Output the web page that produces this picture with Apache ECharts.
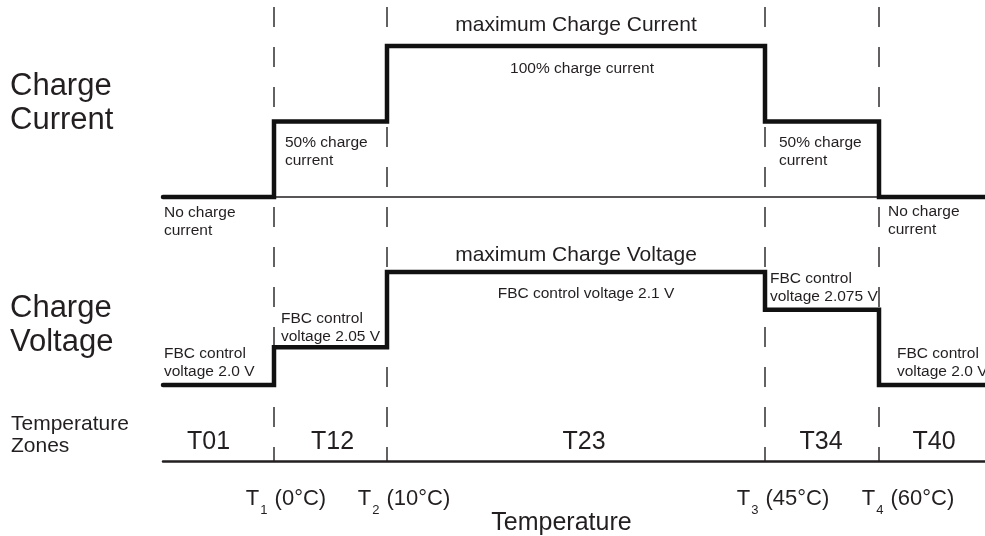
<!DOCTYPE html>
<html><head><meta charset="utf-8">
<script src="https://cdn.jsdelivr.net/npm/echarts@6/dist/echarts.min.js"></script>
<style>html,body{margin:0;padding:0;background:#fff}#c{width:985px;height:536px}</style>
</head><body><div id="c"></div>
<script>
// ---- data (schematic temperature axis, not to scale) ----
const zoneNames = ['T01', 'T12', 'T23', 'T34', 'T40'];
const boundaryNames = ['T1', 'T2', 'T3', 'T4'];
const boundaryTemps = ['0°C', '10°C', '45°C', '60°C'];
const boundaryPos = [111, 224, 602, 716];        // schematic positions of T1..T4
const axisStart = 0, axisEnd = 822;
const currentLevels = [0, 50, 100, 50, 0];       // % of max charge current per zone
const voltageCats = ['2.0 V', '2.05 V', '2.075 V', '2.1 V'];
const voltageLevels = ['2.0 V', '2.05 V', '2.1 V', '2.075 V', '2.0 V'];
const currentNoteTexts = ['No charge\ncurrent', '50% charge\ncurrent', 'maximum Charge Current',
  '100% charge current', '50% charge\ncurrent', 'No charge\ncurrent'];
const voltageNoteTexts = ['FBC control\nvoltage 2.0 V', 'FBC control\nvoltage 2.05 V', 'maximum Charge Voltage',
  'FBC control voltage 2.1 V', 'FBC control\nvoltage 2.075 V', 'FBC control\nvoltage 2.0 V'];

// ---- layout / style ----
const FONT = "'Liberation Sans', Arial, Helvetica, sans-serif";
const INK = '#231f20';
const currentNoteLayout = [
  {zone: 0, anchor: 'start', dx: 1, dy: 25, align: 'left'},
  {zone: 1, anchor: 'start', dx: 11, dy: 30.5, align: 'left'},
  {zone: 2, anchor: 'center', dx: 0, dy: -21, align: 'center', big: true},
  {zone: 2, anchor: 'center', dx: 6, dy: 22.5, align: 'center'},
  {zone: 3, anchor: 'start', dx: 14, dy: 30, align: 'left'},
  {zone: 4, anchor: 'start', dx: 9, dy: 24, align: 'left'}
];
const voltageNoteLayout = [
  {zone: 0, anchor: 'start', dx: 1, dy: -22.5, align: 'left'},
  {zone: 1, anchor: 'start', dx: 7, dy: -19.5, align: 'left'},
  {zone: 2, anchor: 'center', dx: 0, dy: -16.5, align: 'center', big: true},
  {zone: 2, anchor: 'center', dx: 10, dy: 22, align: 'center'},
  {zone: 3, anchor: 'start', dx: 5, dy: -22, align: 'left'},
  {zone: 4, anchor: 'start', dx: 18, dy: -22.5, align: 'left'}
];
const zoneLabelNudge = [-10, 2, 8, -1, 2];
const tickLabelShift = [12, 17, 18, 29];

const zoneStarts = [axisStart].concat(boundaryPos);
const zoneEnds = boundaryPos.concat([axisEnd]);
const zoneCenters = zoneStarts.map((s, i) => (s + zoneEnds[i]) / 2);

function stepData(levels) {
  const d = zoneStarts.map((x, i) => [x, levels[i]]);
  d.push([axisEnd, levels[levels.length - 1]]);
  return d;
}
// voltage levels drawn on an ordinal (rank) scale of the voltage set-points
const voltageIdx = voltageLevels.map(v => voltageCats.indexOf(v));

const hidden = {color: 'rgba(0,0,0,0)', opacity: 1};

function noteSeries(idx, levels, texts, layout) {
  return {
    type: 'scatter', xAxisIndex: idx, yAxisIndex: idx, clip: false, silent: true,
    symbolSize: 1, itemStyle: hidden, z: 10,
    data: texts.map((t, i) => {
      const L = layout[i];
      const x = L.anchor === 'start' ? zoneStarts[L.zone] : zoneCenters[L.zone];
      return {
        value: [x, levels[L.zone]],
        label: {
          show: true, formatter: t, position: 'inside', offset: [L.dx, L.dy],
          align: L.align, verticalAlign: 'middle', fontSize: L.big ? 21 : 15.5,
          lineHeight: 18, color: INK, fontFamily: FONT, textBorderWidth: 0
        }
      };
    })
  };
}

const grids = [
  {left: 163, right: 0, top: 46, height: 151},
  {left: 163, right: 0, top: 272, height: 113},
  {left: 163, right: 0, top: 420, height: 41},
  {left: 163, right: 0, top: 7, height: 454}
];
function xAx(i, extra) {
  return Object.assign({
    gridIndex: i, type: 'value', min: axisStart, max: axisEnd,
    axisLine: {show: false}, axisTick: {show: false}, axisLabel: {show: false}, splitLine: {show: false}
  }, extra || {});
}

const series = [];
// dashed boundaries
boundaryPos.forEach(x => {
  series.push({
    type: 'line', xAxisIndex: 3, yAxisIndex: 3, silent: true, clip: false, symbol: 'none', z: 1,
    data: [[x, 1], [x, 0]],
    lineStyle: {color: INK, width: 1.4, type: [20, 20], dashOffset: 0}
  });
});
// step traces
series.push({
  type: 'line', xAxisIndex: 0, yAxisIndex: 0, step: 'end', symbol: 'none', clip: false, silent: true, z: 5,
  data: stepData(currentLevels),
  lineStyle: {color: '#111', width: 4.5, cap: 'round', join: 'miter'}
});
series.push({
  type: 'line', xAxisIndex: 1, yAxisIndex: 1, step: 'end', symbol: 'none', clip: false, silent: true, z: 5,
  data: stepData(voltageIdx),
  lineStyle: {color: '#111', width: 4.5, cap: 'round', join: 'miter'}
});
series.push(noteSeries(0, currentLevels, currentNoteTexts, currentNoteLayout));
series.push(noteSeries(1, voltageIdx, voltageNoteTexts, voltageNoteLayout));
// zone names
series.push({
  type: 'scatter', xAxisIndex: 2, yAxisIndex: 2, clip: false, silent: true, symbolSize: 1,
  itemStyle: hidden,
  data: zoneNames.map((n, i) => ({
    value: [zoneCenters[i], 0],
    label: {show: true, formatter: n, position: 'inside', offset: [zoneLabelNudge[i], -18.5],
      align: 'center', verticalAlign: 'middle', fontSize: 25, color: INK, fontFamily: FONT, textBorderWidth: 0}
  }))
});
// boundary temperature labels
series.push({
  type: 'scatter', xAxisIndex: 2, yAxisIndex: 2, clip: false, silent: true, symbolSize: 1,
  itemStyle: hidden,
  data: boundaryNames.map((n, i) => ({
    value: [boundaryPos[i], 0],
    label: {
      show: true, position: 'inside', offset: [tickLabelShift[i], 38.5],
      align: 'center', verticalAlign: 'middle', textBorderWidth: 0,
      formatter: '{t|' + n.charAt(0) + '}{s|' + n.slice(1) + '}{t| (' + boundaryTemps[i] + ')}',
      rich: {
        t: {fontSize: 22, lineHeight: 24, verticalAlign: 'top', fontFamily: FONT, color: INK},
        s: {fontSize: 13, lineHeight: 13, padding: [16, 1, 0, 1], verticalAlign: 'top', fontFamily: FONT, color: INK}
      }
    }
  }))
});

const chart = echarts.init(document.getElementById('c'), null, {renderer: 'canvas'});
chart.setOption({
  animation: false,
  backgroundColor: '#fff',
  grid: grids,
  xAxis: [
    xAx(0, {axisLine: {show: true, onZero: false, lineStyle: {color: INK, width: 1.5}}}),
    xAx(1),
    xAx(2, {axisLine: {show: true, onZero: false, lineStyle: {color: INK, width: 2.5}}}),
    xAx(3)
  ],
  yAxis: [
    {gridIndex: 0, type: 'value', min: 0, max: 100, show: false},
    {gridIndex: 1, type: 'value', min: 0, max: voltageCats.length - 1, show: false,
      axisLabel: {formatter: v => voltageCats[v] || ''}},
    {gridIndex: 2, type: 'value', min: 0, max: 1, show: false},
    {gridIndex: 3, type: 'value', min: 0, max: 1, show: false}
  ],
  graphic: [
    {type: 'text', x: 10, y: 103.25, silent: true,
      style: {text: 'Charge\nCurrent', fontSize: 31, fontFamily: FONT, fill: INK, lineHeight: 34.5, verticalAlign: 'middle'}},
    {type: 'text', x: 10, y: 325.25, silent: true,
      style: {text: 'Charge\nVoltage', fontSize: 31, fontFamily: FONT, fill: INK, lineHeight: 33.5, verticalAlign: 'middle'}},
    {type: 'text', x: 11, y: 435, silent: true,
      style: {text: 'Temperature\nZones', fontSize: 21, fontFamily: FONT, fill: INK, lineHeight: 22, verticalAlign: 'middle'}},
    {type: 'text', x: 561.5, y: 523, silent: true,
      style: {text: 'Temperature', fontSize: 25, fontFamily: FONT, fill: INK, align: 'center', verticalAlign: 'middle'}}
  ],
  series: series
});
</script>
</body></html>
